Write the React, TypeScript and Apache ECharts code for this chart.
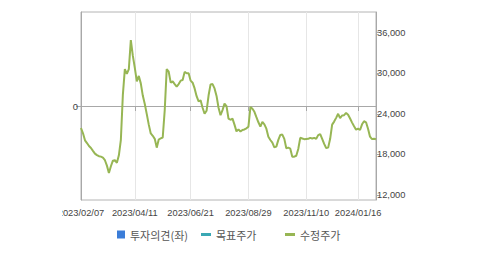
import React, { useEffect, useRef } from 'react';
import * as echarts from 'echarts';

const dates = [
  '2023/02/07','2023/02/09','2023/02/11','2023/02/14','2023/02/16','2023/02/18','2023/02/21','2023/02/23','2023/02/25','2023/02/28',
  '2023/03/02','2023/03/04','2023/03/07','2023/03/09','2023/03/11','2023/03/14','2023/03/16','2023/03/18','2023/03/21','2023/03/23',
  '2023/03/25','2023/03/28','2023/03/30','2023/04/01','2023/04/04','2023/04/06','2023/04/08','2023/04/11','2023/04/14','2023/04/16',
  '2023/04/19','2023/04/21','2023/04/24','2023/04/26','2023/04/29','2023/05/01','2023/05/04','2023/05/06','2023/05/09','2023/05/11',
  '2023/05/14','2023/05/16','2023/05/19','2023/05/21','2023/05/24','2023/05/26','2023/05/29','2023/05/31','2023/06/03','2023/06/05',
  '2023/06/08','2023/06/10','2023/06/13','2023/06/15','2023/06/18','2023/06/21','2023/06/23','2023/06/25','2023/06/28','2023/06/30',
  '2023/07/02','2023/07/05','2023/07/07','2023/07/09','2023/07/12','2023/07/14','2023/07/16','2023/07/19','2023/07/21','2023/07/23',
  '2023/07/26','2023/07/28','2023/07/30','2023/08/02','2023/08/04','2023/08/06','2023/08/09','2023/08/11','2023/08/13','2023/08/16',
  '2023/08/18','2023/08/20','2023/08/23','2023/08/26','2023/08/29','2023/09/01','2023/09/03','2023/09/06','2023/09/08','2023/09/11',
  '2023/09/13','2023/09/16','2023/09/18','2023/09/21','2023/09/23','2023/09/26','2023/09/28','2023/10/01','2023/10/03','2023/10/06',
  '2023/10/08','2023/10/11','2023/10/13','2023/10/16','2023/10/18','2023/10/21','2023/10/23','2023/10/26','2023/10/28','2023/10/31',
  '2023/11/02','2023/11/05','2023/11/07','2023/11/10','2023/11/13','2023/11/15','2023/11/18','2023/11/20','2023/11/23','2023/11/25',
  '2023/11/28','2023/11/30','2023/12/03','2023/12/05','2023/12/08','2023/12/10','2023/12/13','2023/12/15','2023/12/18','2023/12/20',
  '2023/12/23','2023/12/25','2023/12/28','2023/12/30','2024/01/02','2024/01/04','2024/01/07','2024/01/10','2024/01/13','2024/01/16',
  '2024/01/18','2024/01/21','2024/01/23','2024/01/26','2024/01/28','2024/01/31','2024/02/02','2024/02/05','2024/02/07',
];

const adjustedPrice = [
  21900, 21120, 20080, 19680, 19240, 18950, 18530, 18120, 17890, 17730,
  17670, 17520, 17140, 16340, 15260, 16250, 17070, 17150, 16750, 17860,
  20160, 26800, 30600, 29900, 30600, 34900, 32600, 30800, 28800, 29600,
  28500, 26700, 25450, 23950, 22400, 21100, 20750, 20300, 19000, 20200,
  20380, 20500, 24500, 30600, 30230, 28600, 28800, 28400, 28020, 28400,
  28900, 29000, 30200, 30000, 30000, 28900, 28600, 27750, 26600, 25850,
  26000, 24900, 24000, 24450, 26700, 28350, 28400, 27750, 26650, 24900,
  23800, 24550, 25500, 25150, 23300, 23120, 23280, 22400, 21400, 21700,
  21380, 21620, 21690, 21850, 22100, 25000, 24750, 24300, 23500, 22750,
  22100, 22800, 22450, 21800, 20600, 20130, 19750, 19050, 19150, 20150,
  20870, 20930, 20300, 18900, 19000, 18850, 17660, 17660, 17800, 18800,
  20450, 20360, 20250, 20280, 20300, 20450, 20350, 20450, 20300, 20850,
  21000, 20300, 19550, 18950, 19000, 20300, 22400, 22850, 23400, 24000,
  23370, 23750, 23800, 24130, 23870, 23300, 22700, 22150, 21650, 21800,
  21610, 22450, 22900, 22750, 21800, 20620, 20260, 20320, 20230,
];

const opinion: number[] = [];
const targetPrice: number[] = [];

const xLabelDates = ['2023/02/07', '2023/04/11', '2023/06/21', '2023/08/29', '2023/11/10', '2024/01/16'];
const priceTicks = [12000, 18000, 24000, 30000, 36000];
const opinionTicks = [0];

const seriesNames = ['투자의견(좌)', '목표주가', '수정주가'];
const colors = ['#3b7dd8', '#3aa8b4', '#97b654'];

export default function App() {
  const ref = useRef<HTMLDivElement>(null);
  useEffect(() => {
    const chart = echarts.init(ref.current!, null, { renderer: 'svg' });
    const isLabel = (_i: number, v: string) => xLabelDates.includes(v);
    const font = 'Liberation Sans, Arial, sans-serif';
    const legendBase = {
      orient: 'horizontal',
      top: 229,
      padding: 0,
      selectedMode: false,
      textStyle: { color: '#555', fontSize: 11, fontFamily: 'Noto Sans CJK KR' },
    };
    chart.setOption({
      animation: false,
      backgroundColor: '#fff',
      grid: {
        left: 81, right: 103, top: 12, bottom: 55,
        show: true, borderColor: '#b4b4b4', borderWidth: 1, backgroundColor: 'transparent',
      },
      legend: [
        { ...legendBase, left: 117, data: [seriesNames[0]], icon: 'rect', itemWidth: 8, itemHeight: 8 },
        { ...legendBase, left: 201, data: [seriesNames[1]], icon: 'rect', itemWidth: 10, itemHeight: 3 },
        { ...legendBase, left: 285, data: [seriesNames[2]], icon: 'rect', itemWidth: 10, itemHeight: 3 },
      ],
      xAxis: {
        type: 'category',
        data: dates,
        boundaryGap: false,
        axisLine: { lineStyle: { color: '#a8a8a8' } },
        axisTick: { interval: isLabel, length: 5, lineStyle: { color: '#a8a8a8' } },
        axisLabel: { interval: isLabel, color: '#444', fontSize: 9.3, fontFamily: font, margin: 8 },
        splitLine: { show: true, interval: isLabel, lineStyle: { color: '#e6e6e6' } },
      },
      yAxis: [
        {
          type: 'value', position: 'left', min: -1, max: 1, interval: 1,
          axisLine: { show: true, lineStyle: { color: '#a8a8a8' } },
          axisTick: { show: true, length: 5, customValues: opinionTicks, lineStyle: { color: '#a8a8a8' } },
          axisLabel: {
            customValues: opinionTicks, color: '#444', fontSize: 9.5, fontFamily: font, margin: 3,
            formatter: (v: number) => (v === 0 ? '0' : ''),
          },
          splitLine: { show: true, lineStyle: { color: '#e6e6e6' } },
        },
        {
          type: 'value', position: 'right', min: 11260, max: 39050,
          axisLine: { show: true, lineStyle: { color: '#a8a8a8' } },
          axisTick: { show: true, length: 4, customValues: priceTicks, lineStyle: { color: '#a8a8a8' } },
          axisLabel: {
            customValues: priceTicks, color: '#444', fontSize: 9.3, fontFamily: font, margin: 1,
            formatter: (v: number) => v.toLocaleString('en-US'),
          },
          splitLine: { show: false },
        },
      ],
      series: [
        { name: seriesNames[0], type: 'bar', yAxisIndex: 0, data: opinion, itemStyle: { color: colors[0] } },
        { name: seriesNames[1], type: 'line', yAxisIndex: 1, data: targetPrice, symbol: 'none', itemStyle: { color: colors[1] }, lineStyle: { color: colors[1] } },
        {
          name: seriesNames[2], type: 'line', yAxisIndex: 1, data: adjustedPrice, symbol: 'none',
          itemStyle: { color: colors[2] }, lineStyle: { color: colors[2], width: 2 },
        },
      ],
      graphic: [
        { type: 'rect', left: 0, top: 202, shape: { width: 62, height: 20 }, style: { fill: '#fff' }, z: 100 },
      ],
    });
    return () => chart.dispose();
  }, []);
  return <div ref={ref} style={{ position: 'absolute', left: 0, top: 0, width: 479, height: 255 }} />;
}
